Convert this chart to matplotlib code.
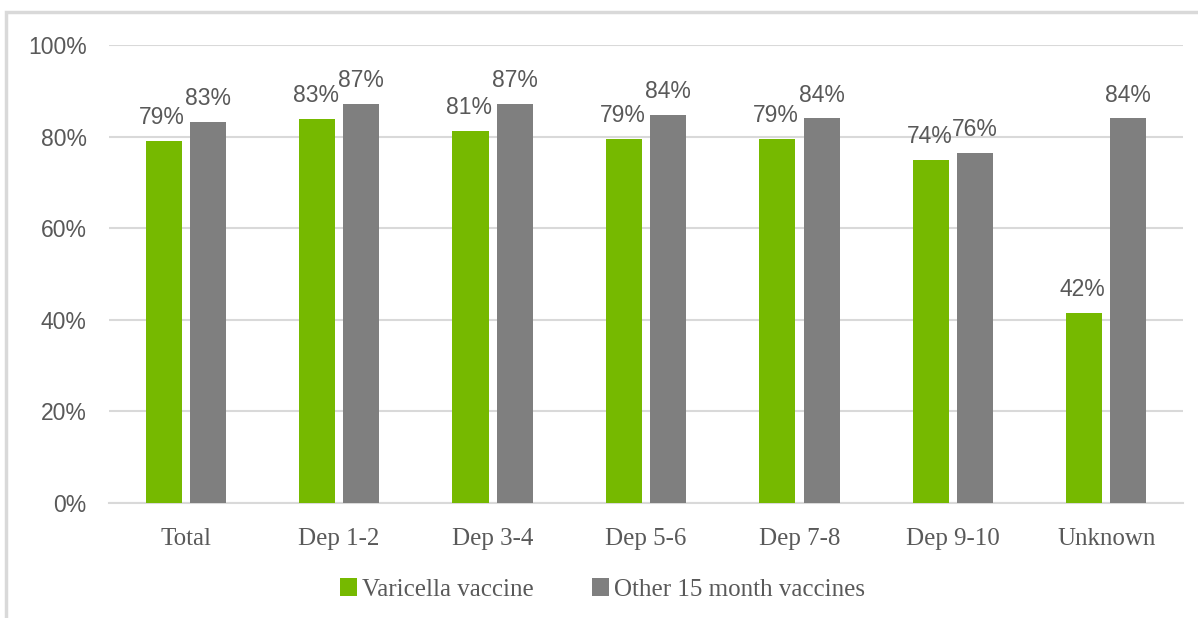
import matplotlib.pyplot as plt
import numpy as np
from matplotlib.patches import Rectangle

categories = ['Total', 'Dep 1-2', 'Dep 3-4', 'Dep 5-6', 'Dep 7-8', 'Dep 9-10', 'Unknown']
varicella = [79.0, 83.9, 81.2, 79.6, 79.6, 74.9, 41.6]
varicella_labels = ['79%', '83%', '81%', '79%', '79%', '74%', '42%']
other = [83.3, 87.2, 87.2, 84.7, 84.0, 76.4, 84.0]
other_labels = ['83%', '87%', '87%', '84%', '84%', '76%', '84%']

green = '#76b900'
grey = '#7f7f7f'
text_col = '#595959'
sans = ['Liberation Sans', 'DejaVu Sans']
serif = ['Liberation Serif', 'DejaVu Serif']

fig = plt.figure(figsize=(11.98, 6.18), dpi=100)
ax = fig.add_axes([0.091, 0.186, 0.8965, 0.741])

# outer frame like the original chart box
fig.patches.append(Rectangle((0.005, -0.01), 1.0, 0.99, transform=fig.transFigure,
                             fill=False, edgecolor='#d9d9d9', linewidth=2.5))

x = np.arange(len(categories))
w = 0.235
off = 0.144
b1 = ax.bar(x - off, varicella, w, color=green, label='Varicella vaccine', zorder=3)
b2 = ax.bar(x + off, other, w, color=grey, label='Other 15 month vaccines', zorder=3)

for rect, lab in zip(b1, varicella_labels):
    ax.annotate(lab, (rect.get_x() + rect.get_width() / 2, rect.get_height()),
                xytext=(-1, 8.5), textcoords='offset points', ha='center', va='bottom',
                fontsize=16.5, color=text_col, family=sans)
for rect, lab in zip(b2, other_labels):
    ax.annotate(lab, (rect.get_x() + rect.get_width() / 2, rect.get_height()),
                xytext=(0, 8.5), textcoords='offset points', ha='center', va='bottom',
                fontsize=16.5, color=text_col, family=sans)

ax.set_xlim(-0.5, len(categories) - 0.5)
ax.set_ylim(0, 100)
ax.set_yticks(range(0, 101, 20))
ax.set_yticklabels([f'{v}%' for v in range(0, 101, 20)], family=sans, fontsize=16.5, color=text_col)
ax.set_xticks(x)
ax.set_xticklabels(categories, family=serif, fontsize=18, color=text_col)
ax.tick_params(axis='both', length=0)
ax.tick_params(axis='y', pad=16)
ax.tick_params(axis='x', pad=18)

ax.grid(axis='y', color='#d9d9d9', linewidth=1.5, zorder=0)
for s in ['top', 'right', 'left']:
    ax.spines[s].set_visible(False)
ax.spines['bottom'].set_color('#d9d9d9')
ax.spines['bottom'].set_linewidth(1.5)

leg = fig.legend(loc='center', bbox_to_anchor=(0.503, 0.046), ncol=2, frameon=False,
                 prop={'family': serif, 'size': 18}, handlelength=0.7, handleheight=0.7,
                 handletextpad=0.2, columnspacing=2.3)
for t in leg.get_texts():
    t.set_color(text_col)

fig.savefig('out.png', dpi=100)
